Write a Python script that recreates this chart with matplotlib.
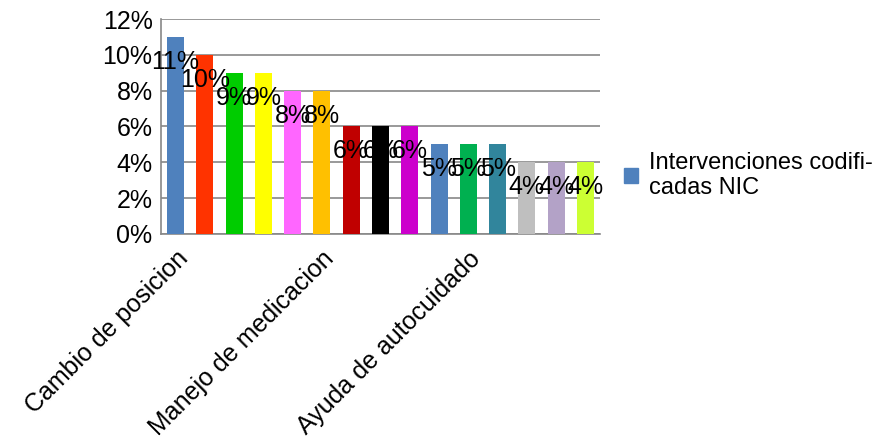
import matplotlib.pyplot as plt
import numpy as np
from matplotlib.patches import Patch

plt.rcParams['font.family'] = ['Liberation Sans', 'DejaVu Sans']

categories = ['Cambio de posicion', '', '', '', '', 'Manejo de medicacion', '', '', '', '',
              'Ayuda de autocuidado', '', '', '', '']
values = [11, 10, 9, 9, 8, 8, 6, 6, 6, 5, 5, 5, 4, 4, 4]
colors = ['#4F81BD', '#FF3300', '#00CC00', '#FFFF00', '#FF66FF', '#FFC000', '#C00000', '#000000',
          '#CC00CC', '#4F81BD', '#00B050', '#31859C', '#BFBFBF', '#B3A2C7', '#CCFF33']
series_name = 'Intervenciones codifi-\ncadas NIC'

fig = plt.figure(figsize=(8.89, 4.43), dpi=100)
ax = fig.add_axes([0.181, 0.472, 0.494, 0.485])

x = np.arange(len(values))
ax.bar(x, values, width=0.58, color=colors, zorder=3)

# etiquetas de datos
for xi, v in zip(x, values):
    ax.annotate(f'{v}%', (xi, v), xytext=(0, -18), textcoords='offset points',
                ha='center', va='center', fontsize=18, color='black', zorder=4)

ax.set_xlim(-0.5, len(values) - 0.5)
ax.set_ylim(0, 12)
ax.set_yticks(range(0, 13, 2))
ax.set_yticklabels([f'{t}%' for t in range(0, 13, 2)], fontsize=18)
ax.yaxis.grid(True, color='#888888', linewidth=1.2, zorder=0)

tick_pos = [i for i, c in enumerate(categories) if c]
ax.set_xticks(tick_pos)
ax.set_xticklabels([categories[i] for i in tick_pos], rotation=45, ha='right',
                   rotation_mode='anchor', fontsize=18)
ax.tick_params(axis='x', length=0, pad=9)
ax.tick_params(axis='y', length=0, pad=6)

for s in ['top', 'right']:
    ax.spines[s].set_visible(False)
for s in ['left', 'bottom']:
    ax.spines[s].set_color('#888888')
    ax.spines[s].set_linewidth(1.2)

fig.legend(handles=[Patch(color='#4F81BD', label=series_name)], loc='upper left',
           bbox_to_anchor=(0.678, 0.705), frameon=False, fontsize=17,
           handlelength=0.6, handleheight=0.6, handletextpad=0.45)

fig.savefig('out.png', dpi=100)
